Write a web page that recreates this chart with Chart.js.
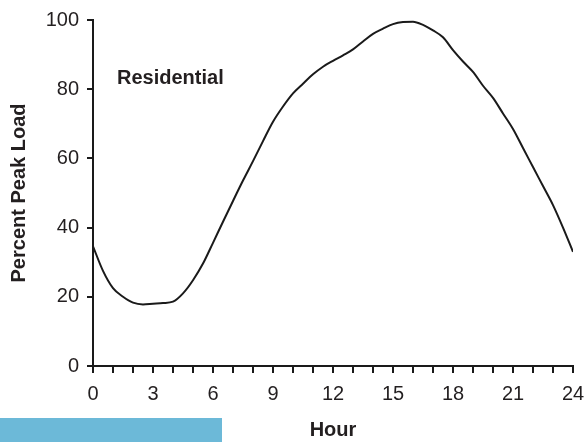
<!DOCTYPE html>
<html>
<head>
<meta charset="utf-8">
<script src="https://cdn.jsdelivr.net/npm/chart.js@4/dist/chart.umd.min.js"></script>
<style>
    html, body { margin: 0; padding: 0; background: #fff; }
    #wrap { position: relative; width: 585px; height: 442px; }
    #faixa { position: absolute; left: 0; top: 418px; width: 222px; height: 24px; background: #6cb9d8; }
</style>
</head>
<body>
<div id="wrap">
    <canvas id="grafico" width="585" height="442"></canvas>
    <div id="faixa"></div>
</div>
<script>
const HORAS = [0, 0.5, 1, 1.5, 2, 2.5, 3, 3.5, 4, 4.5, 5, 5.5, 6, 6.5, 7, 7.5, 8, 8.5, 9, 9.5, 10, 10.5, 11, 11.5,
    12, 12.5, 13, 13.5, 14, 14.5, 15, 15.5, 16, 16.5, 17, 17.5, 18, 18.5, 19, 19.5, 20, 20.5, 21, 21.5, 22, 22.5, 23, 23.5, 24];
const CARGA = [34.6, 27.5, 22.5, 20, 18.3, 17.8, 18, 18.2, 18.6, 21, 24.8, 29.6, 35.6, 41.7, 47.7, 53.6, 59.2, 65, 70.6, 75,
    78.8, 81.6, 84.3, 86.5, 88.2, 89.8, 91.5, 93.8, 96, 97.5, 98.8, 99.4, 99.5, 98.6, 97, 95, 91.3, 88, 85, 81,
    77.5, 73, 68.5, 63, 57.5, 52, 46.5, 40, 33];
const ROTULO_SERIE = 'Residential';
const ROTULO_POS = { x: 1.2, y: 83 };
const TITULO_X = 'Hour';
const TITULO_Y = 'Percent Peak Load';

const COR_TEXTO = '#231f20';
const FONTE = "'Liberation Sans', Arial, sans-serif";

const rotuloSerie = {
    id: 'rotuloSerie',
    afterDraw(chart) {
        const { ctx, scales: { x, y } } = chart;
        ctx.save();
        ctx.font = 'bold 20px ' + FONTE;
        ctx.fillStyle = COR_TEXTO;
        ctx.textAlign = 'left';
        ctx.textBaseline = 'middle';
        ctx.fillText(ROTULO_SERIE, x.getPixelForValue(ROTULO_POS.x), y.getPixelForValue(ROTULO_POS.y));
        ctx.restore();
    }
};

new Chart(document.getElementById('grafico'), {
    type: 'line',
    data: {
        datasets: [{
            label: ROTULO_SERIE,
            data: HORAS.map((h, i) => ({ x: h, y: CARGA[i] })),
            borderColor: '#1a1a1a',
            borderWidth: 2,
            pointRadius: 0,
            fill: false,
            cubicInterpolationMode: 'monotone'
        }]
    },
    options: {
        responsive: false,
        animation: false,
        layout: { padding: { top: 18, right: 12, bottom: 0, left: 0 } },
        plugins: { legend: { display: false }, tooltip: { enabled: false } },
        scales: {
            x: {
                type: 'linear',
                min: 0,
                max: 24,
                afterFit(scale) {
                    scale.height = 76;
                    scale.paddingLeft = 0;
                    scale.paddingRight = 0;
                },
                border: { color: '#1a1a1a', width: 2 },
                grid: { drawOnChartArea: false, drawTicks: true, tickLength: 7, color: '#1a1a1a', lineWidth: 2 },
                ticks: {
                    stepSize: 1,
                    autoSkip: false,
                    maxRotation: 0,
                    padding: 9,
                    color: COR_TEXTO,
                    font: { family: FONTE, size: 20 },
                    callback: (v) => (v % 3 === 0 ? String(v) : '')
                },
                title: {
                    display: true,
                    text: TITULO_X,
                    color: COR_TEXTO,
                    font: { family: FONTE, size: 20, weight: 'bold' },
                    padding: { top: 14, bottom: 0 }
                }
            },
            y: {
                min: 0,
                max: 100,
                afterFit(scale) { scale.width = 93; },
                border: { color: '#1a1a1a', width: 2 },
                grid: { drawOnChartArea: false, drawTicks: true, tickLength: 6, color: '#1a1a1a', lineWidth: 2 },
                ticks: {
                    stepSize: 20,
                    padding: 8,
                    color: COR_TEXTO,
                    font: { family: FONTE, size: 20 }
                },
                title: {
                    display: true,
                    text: TITULO_Y,
                    color: COR_TEXTO,
                    font: { family: FONTE, size: 20, weight: 'bold' },
                    padding: { top: 7, bottom: 0 }
                }
            }
        }
    },
    plugins: [rotuloSerie]
});
</script>
</body>
</html>
